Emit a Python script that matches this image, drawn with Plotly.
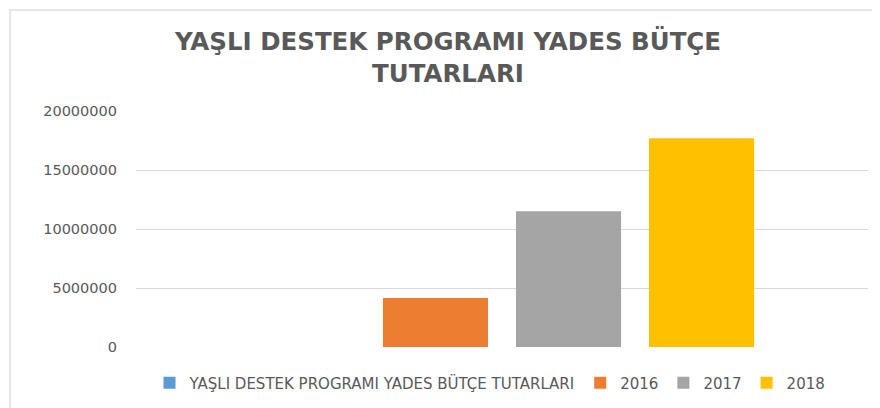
import plotly.graph_objects as go

categories = ["YAŞLI DESTEK PROGRAMI YADES BÜTÇE TUTARLARI"]
series_names = ["YAŞLI DESTEK PROGRAMI YADES BÜTÇE TUTARLARI", "2016", "2017", "2018"]
series_values = [0, 4150000, 11500000, 17700000]
series_colors = ["#5B9BD5", "#ED7D31", "#A5A5A5", "#FFC000"]
y_ticks = [0, 5000000, 10000000, 15000000, 20000000]

TEXT = "#595959"
FONT = "DejaVu Sans"

fig = go.Figure()
for name, val, col in zip(series_names, series_values, series_colors):
    fig.add_trace(go.Bar(x=categories, y=[val], name=name, marker_color=col,
                         marker_line_width=0))

# page body has an 8px margin, so the figure is sized to fit the window
W, H = 872, 400
L, R, T, B = 128, 12, 103, 61
pw = W - L - R
ph = H - T - B

fig.update_layout(
    width=W, height=H,
    margin=dict(l=L, r=R, t=T, b=B, autoexpand=False),
    paper_bgcolor="white", plot_bgcolor="white",
    barmode="group", bargap=0.273, bargroupgap=0.21,
    font=dict(family=FONT, color=TEXT),
    title=dict(text="<b>YAŞLI DESTEK PROGRAMI YADES BÜTÇE<br>TUTARLARI</b>",
               x=440 / W, xanchor="center", xref="container",
               y=1 - 42 / H, yanchor="top", yref="container",
               font=dict(family=FONT, size=24.5, color=TEXT)),
    showlegend=True,
    legend=dict(orientation="h", x=482 / W, xanchor="center", xref="container",
                y=1 - 375 / H, yanchor="middle", yref="container",
                font=dict(family=FONT, size=15, color=TEXT),
                bgcolor="rgba(0,0,0,0)", traceorder="normal"),
    xaxis=dict(showticklabels=False, showgrid=False, zeroline=False, showline=False,
               ticks=""),
    yaxis=dict(range=[0, 20000000], tickvals=y_ticks, tickformat="d",
               showgrid=True, gridcolor="#D9D9D9", gridwidth=1, zeroline=False,
               showline=False, ticks="", ticklabelstandoff=18,
               tickfont=dict(family=FONT, size=14.5, color=TEXT)),
)

# chart-area border (left and top visible, right/bottom cropped)
fig.add_shape(type="rect", xref="paper", yref="paper",
              x0=(2 - L) / pw, x1=(W + 10 - L) / pw,
              y0=-(H + 10 - T - ph) / ph, y1=(ph + T - 2) / ph,
              line=dict(color="#DEDEDE", width=1.5), fillcolor="rgba(0,0,0,0)",
              layer="below")

fig.write_html("out.html")
